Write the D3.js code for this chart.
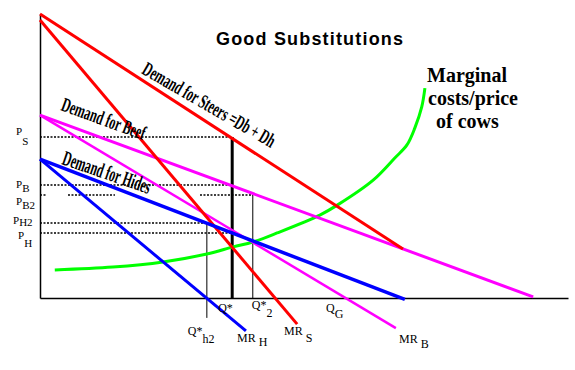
<!DOCTYPE html>
<html>
<head>
<meta charset="utf-8">
<script src="https://cdn.jsdelivr.net/npm/d3@7"></script>
<style>
  body { margin: 0; background: #fff; }
  svg { display: block; }
</style>
</head>
<body>
<script>
// curves, in quantity / price units (0-100 on both axes)
var steersDemand = [[0, 100], [68.75, 17.25]];
var beefDemand = [[0, 64.4], [93.4, 0.4]];
var hidesDemand = [[0, 48.9], [69.1, -0.5]];
var mrSteers = [[0, 97.9], [48.7, -9.2]];
var mrBeef = [[0, 64.4], [67.4, -10.6]];
var mrHides = [[0, 48.9], [39, -11.6]];
var marginalCost = [[2.8, 9.9], [13.8, 10.9], [23.3, 12.7], [31.6, 15.5], [36.6, 18.0],
    [40.3, 19.7], [44.9, 22.9], [53.0, 29.2], [56.3, 32.7], [63.1, 41.5],
    [67.2, 49.3], [69.5, 53.9], [71.0, 59.9], [72.3, 67.3], [72.9, 73.9]];

// price levels and the quantity where each dotted guide stops
var priceSubs = ["S", "B", "B2", "H2", "H"];
var priceValues = [56.7, 39.8, 36.3, 26.4, 22.9];
var priceStops = [36.4, 36.4, 40.3, 31.6, 36.4];

// quantities
var qStar = 36.4, qStar2 = 40.3, qStarH2 = 31.6;

function draw() {
    var width = 575, height = 370;
    var serif = "Liberation Serif, Times New Roman, serif";

    var svg = d3.select("body").append("svg")
        .attr("width", width)
        .attr("height", height);

    var x = d3.scaleLinear().domain([0, 100]).range([40, 568]);
    var y = d3.scaleLinear().domain([0, 100]).range([298, 14]);

    var line = d3.line().x(d => x(d[0])).y(d => y(d[1]));

    //axes, domain lines only
    svg.append("g")
        .attr("transform", `translate(0,${y(0)})`)
        .call(d3.axisBottom(x).ticks(0).tickSizeOuter(0))
        .select(".domain").attr("stroke-width", 1.5);
    svg.append("g")
        .attr("transform", `translate(${x(0)},0)`)
        .call(d3.axisLeft(y).ticks(0).tickSizeOuter(0))
        .select(".domain").attr("stroke-width", 1.5);

    //label nudges for the P labels (baseline shift, subscript drop, x)
    var pShift = [-2, 3, 10, 1, 6];
    var pSubDrop = [10, 4, 4, 2, 8];
    var pX = [16, 16, 16, 13, 18];

    //dotted price guides
    priceValues.forEach(function (p, i) {
        var pieces = priceSubs[i] == "B2"
            ? [[0, 1.1], [5.3, 14.2], [30.3, priceStops[i]]]   // broken in the original
            : [[0, priceStops[i]]];
        pieces.forEach(function (s) {
            svg.append("line")
                .attr("x1", x(s[0])).attr("x2", x(s[1]))
                .attr("y1", y(p)).attr("y2", y(p))
                .attr("stroke", "#000").attr("stroke-width", 1.5)
                .attr("stroke-dasharray", "2,1.5");
        });
        var t = svg.append("text")
            .attr("x", pX[i])
            .attr("y", y(p) + pShift[i])
            .attr("font-family", serif)
            .attr("font-size", 11);
        t.append("tspan").text("P");
        t.append("tspan").attr("dy", pSubDrop[i]).text(priceSubs[i]);
    });

    //quantity verticals
    svg.append("line")
        .attr("x1", x(qStar)).attr("x2", x(qStar))
        .attr("y1", y(priceValues[0])).attr("y2", y(0))
        .attr("stroke", "#000").attr("stroke-width", 3);
    svg.append("line")
        .attr("x1", x(qStar2)).attr("x2", x(qStar2))
        .attr("y1", y(priceValues[2])).attr("y2", y(0))
        .attr("stroke", "#000").attr("stroke-width", 1);
    svg.append("line")
        .attr("x1", x(qStarH2)).attr("x2", x(qStarH2))
        .attr("y1", y(priceValues[3])).attr("y2", y(-7))
        .attr("stroke", "#000").attr("stroke-width", 1);

    //curves
    var curves = [
        { d: marginalCost, c: "#00ff00", w: 3, smooth: true },
        { d: beefDemand, c: "#ff00ff", w: 3 },
        { d: mrBeef, c: "#ff00ff", w: 2.5 },
        { d: steersDemand, c: "#ff0000", w: 3 },
        { d: mrSteers, c: "#ff0000", w: 3 },
        { d: hidesDemand, c: "#0000ff", w: 3.5 },
        { d: mrHides, c: "#0000ff", w: 3 }
    ];
    curves.forEach(function (cv) {
        svg.append("path")
            .attr("d", line.curve(cv.smooth ? d3.curveCatmullRom : d3.curveLinear)(cv.d))
            .attr("fill", "none")
            .attr("stroke", cv.c)
            .attr("stroke-width", cv.w);
    });

    //rotated demand labels, tall and squeezed like the original
    var slanted = [
        { t: "Demand for Steers =Db + Dh", q: 19.1, p: 79.2, a: 30, len: 150, fs: 20 },
        { t: "Demand for Beef", q: 3.8, p: 66.2, a: 20, len: 88, fs: 20 },
        { t: "Demand for Hides", q: 4.0, p: 47.2, a: 19, len: 92, fs: 21 }
    ];
    slanted.forEach(function (s) {
        svg.append("text")
            .attr("transform", `translate(${x(s.q)},${y(s.p)}) rotate(${s.a})`)
            .attr("font-family", serif)
            .attr("font-weight", "bold")
            .attr("font-size", s.fs)
            .attr("textLength", s.len)
            .attr("lengthAdjust", "spacingAndGlyphs")
            .text(s.t);
    });

    //bottom labels
    function subLabel(px, py, main, sub, dy) {
        var t = svg.append("text").attr("x", px).attr("y", py)
            .attr("font-family", serif).attr("font-size", 12);
        t.append("tspan").text(main);
        t.append("tspan").attr("dy", dy).text(sub);
    }
    svg.append("text").attr("x", x(qStar) - 14).attr("y", 312)
        .attr("font-family", serif).attr("font-size", 12).text("Q*");
    subLabel(x(qStar2) - 1, 309, "Q*", "2", 8);
    subLabel(326, 312, "Q", "G", 6);
    subLabel(x(qStarH2) - 19, 335, "Q*", "h2", 8);
    subLabel(237, 342, "MR", " H", 4);
    subLabel(284, 335, "MR", " S", 7);
    subLabel(399, 343, "MR", " B", 5);

    //title
    svg.append("text")
        .attr("x", 216).attr("y", 45)
        .attr("font-family", "Liberation Sans, Arial, sans-serif")
        .attr("font-weight", "bold")
        .attr("font-size", 18)
        .attr("textLength", 187)
        .attr("lengthAdjust", "spacing")
        .text("Good Substitutions");

    //marginal cost label
    var mcLines = [["Marginal", 427, 82], ["costs/price", 428, 105], ["of cows", 436, 128]];
    mcLines.forEach(function (l) {
        svg.append("text")
            .attr("x", l[1]).attr("y", l[2])
            .attr("font-family", serif)
            .attr("font-weight", "bold")
            .attr("font-size", 20)
            .text(l[0]);
    });
}

window.onload = draw;
</script>
</body>
</html>
